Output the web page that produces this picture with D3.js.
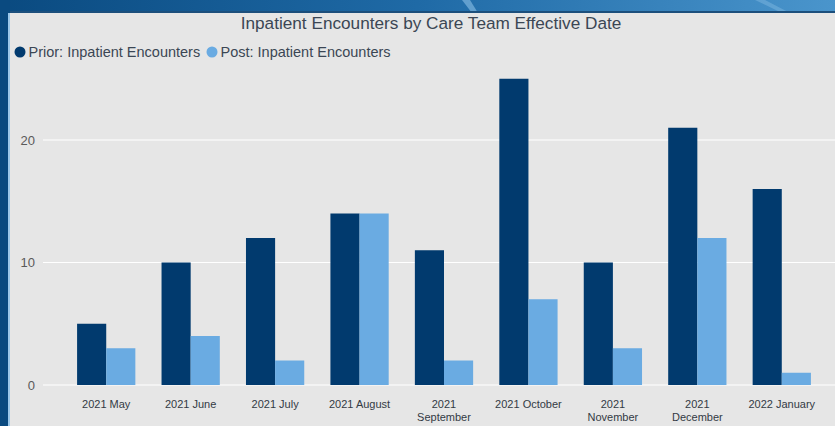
<!DOCTYPE html>
<html>
<head>
<meta charset="utf-8">
<script src="https://cdn.jsdelivr.net/npm/d3@7"></script>
<style>
  body { margin: 0; background: #0b4a80; }
  svg { display: block; font-family: "Liberation Sans", Arial, sans-serif; }
</style>
</head>
<body>
<div id="chart"></div>
<script>
// data
var months = ['2021 May', '2021 June', '2021 July', '2021 August', '2021 September',
              '2021 October', '2021 November', '2021 December', '2022 January'];
var prior = [5, 10, 12, 14, 11, 25, 10, 21, 16];
var post = [3, 4, 2, 14, 2, 7, 3, 12, 1];
var yTicks = [0, 10, 20];
var seriesNames = ['Prior: Inpatient Encounters', 'Post: Inpatient Encounters'];
var seriesColors = ['#013a6e', '#6aabe2'];

var W = 835, H = 426;
var panel = { x: 10, y: 13 };
var margin = { top: 70, right: 11, bottom: 41, left: 64 };

var svg = d3.select('#chart').append('svg')
  .attr('width', W)
  .attr('height', H);

// blue frame
var defs = svg.append('defs');
var grad = defs.append('linearGradient').attr('id', 'frame').attr('x1', 0).attr('x2', 1);
grad.append('stop').attr('offset', 0).attr('stop-color', '#0a4a80');
grad.append('stop').attr('offset', 0.5).attr('stop-color', '#1f6aa6');
grad.append('stop').attr('offset', 1).attr('stop-color', '#4a95cc');
svg.append('rect').attr('width', W).attr('height', H).attr('fill', 'url(#frame)');
svg.append('rect').attr('x', 0).attr('y', 0).attr('width', panel.x).attr('height', H).attr('fill', '#0a4a80');
// light streaks in the top bar
svg.append('path').attr('d', 'M462,0 L470,0 L478,13 L472,13 Z').attr('fill', '#8cc0e6').attr('opacity', 0.6);
svg.append('path').attr('d', 'M755,0 L765,0 L790,13 L782,13 Z').attr('fill', '#8cc0e6').attr('opacity', 0.4);
// light edge lines
svg.append('line').attr('x1', panel.x - 1).attr('x2', panel.x - 1).attr('y1', panel.y).attr('y2', H)
  .attr('stroke', '#9cc8ea').attr('stroke-width', 2);
svg.append('line').attr('x1', panel.x).attr('x2', W).attr('y1', panel.y - 1).attr('y2', panel.y - 1)
  .attr('stroke', '#1c4f7c').attr('stroke-width', 2);

// gray panel
svg.append('rect')
  .attr('x', panel.x).attr('y', panel.y)
  .attr('width', W - panel.x).attr('height', H - panel.y)
  .attr('fill', '#e6e6e6');

// scales
var x0 = d3.scaleBand().domain(months).range([margin.left, W - margin.right]).paddingInner(0.31).paddingOuter(0.155);
var x1 = d3.scaleBand().domain([0, 1]).range([0, x0.bandwidth()]);
var y = d3.scaleLinear().domain([0, 20]).range([385, 140]);

// grid
svg.append('g').selectAll('line').data(yTicks).enter().append('line')
  .attr('x1', 43).attr('x2', W)
  .attr('y1', function(d) { return y(d); })
  .attr('y2', function(d) { return y(d); })
  .attr('stroke', '#ffffff').attr('stroke-width', 1.2);

// y axis labels
svg.append('g').selectAll('text').data(yTicks).enter().append('text')
  .attr('x', 35)
  .attr('y', function(d) { return y(d); })
  .attr('dy', '0.35em')
  .attr('text-anchor', 'end')
  .attr('fill', '#5a5a5a')
  .style('font-size', '13px')
  .text(String);

// bars
var groups = svg.append('g').selectAll('g').data(months).enter().append('g')
  .attr('transform', function(d) { return 'translate(' + x0(d) + ',0)'; });

groups.selectAll('rect').data(function(d, i) { return [prior[i], post[i]]; })
  .enter().append('rect')
  .attr('x', function(d, j) { return x1(j); })
  .attr('y', function(d) { return y(d); })
  .attr('width', x1.bandwidth())
  .attr('height', function(d) { return y(0) - y(d); })
  .attr('fill', function(d, j) { return seriesColors[j]; });

// x labels (wrap long ones)
var xl = svg.append('g').selectAll('text').data(months).enter().append('text')
  .attr('x', function(d) { return x0(d) + x0.bandwidth() / 2; })
  .attr('y', 408)
  .attr('text-anchor', 'middle')
  .attr('fill', '#333a44')
  .style('font-size', '11px');
xl.each(function(d) {
  var t = d3.select(this);
  var parts = d.split(' ');
  if (d.length > 12) {
    t.append('tspan').attr('x', t.attr('x')).text(parts[0]);
    t.append('tspan').attr('x', t.attr('x')).attr('dy', '13').text(parts[1]);
  } else {
    t.text(d);
  }
});

// title
svg.append('text')
  .attr('x', 431).attr('y', 29)
  .attr('text-anchor', 'middle')
  .attr('fill', '#3b4654')
  .style('font-size', '17.2px')
  .text('Inpatient Encounters by Care Team Effective Date');

// legend
var lx = [20, 212];
var legend = svg.append('g').selectAll('g').data(seriesNames).enter().append('g')
  .attr('transform', function(d, i) { return 'translate(' + lx[i] + ',52)'; });
legend.append('circle').attr('r', 5.5).attr('fill', function(d, i) { return seriesColors[i]; });
legend.append('text')
  .attr('x', 8.5).attr('dy', '0.35em')
  .attr('fill', '#3b4654')
  .style('font-size', '14.5px')
  .text(function(d) { return d; });
</script>
</body>
</html>
